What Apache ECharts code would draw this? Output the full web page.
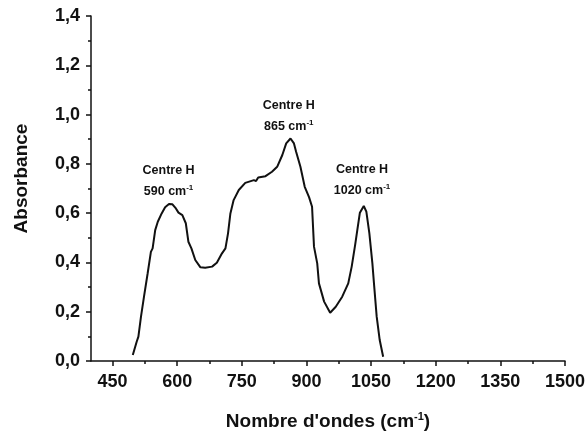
<!DOCTYPE html>
<html>
<head>
<meta charset="utf-8">
<script src="https://cdn.jsdelivr.net/npm/echarts@6/dist/echarts.min.js"></script>
<style>
  html, body { margin: 0; padding: 0; background: #fff; }
  #chart { width: 587px; height: 432px; }
</style>
</head>
<body>
<div id="chart"></div>
<script>
// spectrum
const waveNumber = [497, 506, 510, 516, 523, 525.5, 531.5, 539, 543, 549, 555, 564, 572, 581, 589, 597, 603, 612, 620, 626, 633, 642, 654, 665, 681, 692, 704, 712, 718, 723.5, 731, 743, 758, 778, 783, 788, 805, 820, 832, 844, 853, 863, 871, 876, 886, 896, 906, 913, 917.5, 925, 929, 941, 955, 968, 983, 997, 1005, 1013, 1018, 1024, 1033, 1039, 1046, 1053, 1057, 1063, 1070, 1078];
const absorbance = [0.024, 0.078, 0.099, 0.180, 0.261, 0.264, 0.356, 0.443, 0.457, 0.531, 0.565, 0.599, 0.624, 0.637, 0.636, 0.619, 0.602, 0.592, 0.559, 0.484, 0.457, 0.410, 0.380, 0.378, 0.383, 0.399, 0.437, 0.457, 0.518, 0.599, 0.653, 0.694, 0.723, 0.734, 0.730, 0.745, 0.750, 0.768, 0.788, 0.836, 0.883, 0.903, 0.883, 0.849, 0.788, 0.707, 0.665, 0.626, 0.464, 0.396, 0.315, 0.241, 0.196, 0.220, 0.261, 0.315, 0.383, 0.471, 0.531, 0.602, 0.629, 0.606, 0.518, 0.396, 0.308, 0.180, 0.085, 0.017];

const xTickLabels = [450, 600, 750, 900, 1050, 1200, 1350, 1500];
const xMinorTicks = [525, 675, 825, 975, 1125, 1275, 1425];

const peakNames = ['Centre H', 'Centre H', 'Centre H'];
const peakWaves = [590, 865, 1020];
const peakLabelX = [580, 859, 1029];
const peakLabelY = [0.729, 0.9925, 0.734];

const font = '"Liberation Sans", Arial, sans-serif';
const ink = '#111';

const chart = echarts.init(document.getElementById('chart'));

const supRich = {
  t: { fontFamily: font, fontWeight: 'bold', fontSize: 12.5, color: ink, lineHeight: 21 },
  s: { fontFamily: font, fontWeight: 'bold', fontSize: 8, color: ink, padding: [0, 0, 8, 0] }
};

const option = {
  animation: false,
  backgroundColor: '#fff',
  grid: { left: 91, right: 22, top: 16, bottom: 71, outerBoundsMode: 'none' },
  xAxis: [{
    type: 'value',
    min: 400,
    max: 1500,
    name: '{t|Nombre d\'ondes (cm}{s|-1}{t|)}',
    nameLocation: 'middle',
    nameGap: 50,
    nameTextStyle: {
      rich: {
        t: { fontFamily: font, fontWeight: 'bold', fontSize: 19, color: ink },
        s: { fontFamily: font, fontWeight: 'bold', fontSize: 11, color: ink, padding: [0, 0, 11, 0] }
      }
    },
    axisLine: { show: true, lineStyle: { color: ink, width: 1.5 } },
    axisTick: { show: true, inside: false, length: 5, customValues: xTickLabels, lineStyle: { color: ink, width: 1.5 } },
    axisLabel: {
      customValues: xTickLabels,
      formatter: v => String(v),
      fontFamily: font, fontWeight: 'bold', fontSize: 18, color: ink, margin: 12
    },
    splitLine: { show: false }
  }, {
    type: 'value',
    min: 400,
    max: 1500,
    position: 'bottom',
    axisLine: { show: false },
    axisTick: { show: true, inside: false, length: 3, customValues: xMinorTicks, lineStyle: { color: ink, width: 1.5 } },
    axisLabel: { show: false },
    splitLine: { show: false }
  }],
  yAxis: {
    type: 'value',
    min: 0,
    max: 1.4,
    interval: 0.2,
    name: 'Absorbance',
    nameLocation: 'middle',
    nameGap: 60,
    nameTextStyle: { fontFamily: font, fontWeight: 'bold', fontSize: 19, color: ink, padding: [0, 0, 0, 20] },
    axisLine: { show: true, lineStyle: { color: ink, width: 1.5 } },
    axisTick: { show: true, inside: false, length: 5, lineStyle: { color: ink, width: 1.5 } },
    minorTick: { show: true, splitNumber: 2, length: 3, lineStyle: { color: ink, width: 1.5 } },
    axisLabel: {
      fontFamily: font, fontWeight: 'bold', fontSize: 18, color: ink, margin: 11,
      formatter: v => v.toFixed(1).replace('.', ',')
    },
    splitLine: { show: false }
  },
  series: [{
    type: 'line',
    xAxisIndex: 0,
    data: waveNumber.map((w, i) => [w, absorbance[i]]),
    showSymbol: false,
    lineStyle: { color: ink, width: 2 },
    markPoint: {
      symbol: 'circle',
      symbolSize: 0,
      data: peakWaves.map((w, i) => ({
        coord: [peakLabelX[i], peakLabelY[i]],
        label: {
          show: true,
          position: 'inside',
          formatter: '{t|' + peakNames[i] + '}\n{t|' + w + ' cm}{s|-1}',
          rich: supRich
        }
      }))
    }
  }]
};

chart.setOption(option);
</script>
</body>
</html>
